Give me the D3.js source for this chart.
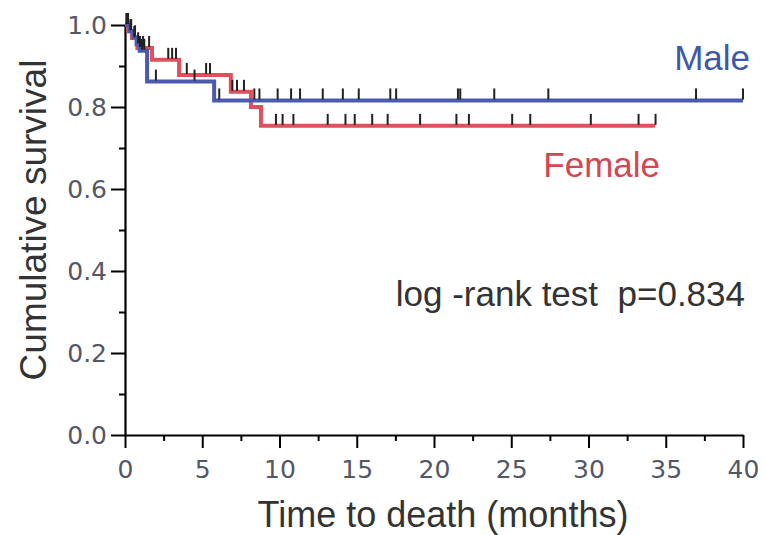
<!DOCTYPE html>
<html>
<head>
<meta charset="utf-8">
<script src="https://cdn.jsdelivr.net/npm/d3@7"></script>
<style>
  body { margin: 0; background: #fff; }
  svg { display: block; }
  text { white-space: pre; }
</style>
</head>
<body>
<svg width="765" height="535"></svg>
<script>
// step points: [time (months), survival after the drop]
const maleSteps = [[0, 1.0], [0.3, 0.985], [0.55, 0.97], [0.75, 0.953], [0.95, 0.937], [1.43, 0.862], [5.77, 0.816]]
const maleEnd = 40
const maleCensor = [0.1, 0.2, 0.4, 0.65, 0.85, 1.1, 1.25, 2.0, 4.5, 6.1, 8.37, 8.7, 9.88, 10.75, 11.33, 12.8, 14.1, 15.13,
                    17.17, 17.55, 21.55, 21.7, 23.9, 27.4, 36.96, 40]

const femaleSteps = [[0, 1.0], [0.2, 0.985], [0.45, 0.968], [0.8, 0.944], [1.75, 0.915], [3.5, 0.878], [6.85, 0.837],
                     [8.15, 0.80], [8.8, 0.754]]
const femaleEnd = 34.3
const femaleCensor = [0.1, 0.35, 0.6, 0.97, 1.17, 1.56, 2.8, 3.05, 3.3, 4.0, 5.25, 5.5, 6.95, 7.25, 7.7, 9.77, 10.2, 10.9,
                      13.12, 14.27, 14.87, 16.0, 17.0, 19.1, 21.45, 22.26, 25.06, 26.23, 30.15, 33.24, 34.34]

const xMajor = [0, 5, 10, 15, 20, 25, 30, 35, 40]
const xMinor = [2.5, 7.5, 12.5, 17.5, 22.5, 27.5, 32.5, 37.5]
const yMajor = [0, 0.2, 0.4, 0.6, 0.8, 1.0]
const yMinor = [0.1, 0.3, 0.5, 0.7, 0.9]

const blue = "#4a5aae"
const red = "#e0505c"

const svg = d3.select("svg")

const x = d3.scaleLinear().domain([0, 40]).range([125, 743])
const y = d3.scaleLinear().domain([0, 1]).range([435, 25])

// axes
const tickFont = g => g.selectAll("text")
   .attr("font-family", "'DejaVu Sans', Verdana, sans-serif")
   .attr("font-size", 25)
   .attr("fill", "#545866")

svg.append("g")
   .attr("transform", `translate(0,${y(0)})`)
   .call(d3.axisBottom(x).tickValues(xMinor).tickSize(6).tickFormat(""))
   .call(g => g.select(".domain").remove())
   .call(g => g.selectAll("line").attr("stroke-width", 2))

svg.append("g")
   .attr("transform", `translate(0,${y(0)})`)
   .call(d3.axisBottom(x).tickValues(xMajor).tickSize(13).tickSizeOuter(0).tickPadding(12).tickFormat(d3.format("d")))
   .call(g => g.select(".domain").attr("stroke-width", 2.2))
   .call(g => g.selectAll("line").attr("stroke-width", 2))
   .call(tickFont)

svg.append("g")
   .attr("transform", `translate(${x(0)},0)`)
   .call(d3.axisLeft(y).tickValues(yMinor).tickSize(6).tickFormat(""))
   .call(g => g.select(".domain").remove())
   .call(g => g.selectAll("line").attr("stroke-width", 2))

svg.append("g")
   .attr("transform", `translate(${x(0)},0)`)
   .call(d3.axisLeft(y).tickValues(yMajor).tickSize(14).tickSizeOuter(0).tickPadding(4).tickFormat(d3.format(".1f")))
   .call(g => g.select(".domain").attr("stroke-width", 2.2))
   .call(g => g.selectAll("line").attr("stroke-width", 2))
   .call(tickFont)

// curves
const line = d3.line()
   .curve(d3.curveStepAfter)
   .x(d => x(d[0]))
   .y(d => y(d[1]))

function survAt(steps, t) {
   let s = steps[0][1]
   for (const [ti, si] of steps) if (ti <= t) s = si
   return s
}

const groups = [
   {steps: femaleSteps, end: femaleEnd, censor: femaleCensor, color: red},
   {steps: maleSteps, end: maleEnd, censor: maleCensor, color: blue}
]

groups.forEach(grp => {
   const pts = grp.steps.concat([[grp.end, grp.steps[grp.steps.length - 1][1]]])
   svg.append("path")
      .datum(pts)
      .attr("fill", "none")
      .attr("stroke", grp.color)
      .attr("stroke-width", 4)
      .attr("d", line)
})

groups.forEach(grp => {
   svg.append("g")
      .attr("stroke", "#222")
      .attr("stroke-width", 2)
      .selectAll("line")
      .data(grp.censor)
      .join("line")
      .attr("x1", d => x(d))
      .attr("x2", d => x(d))
      .attr("y1", d => y(survAt(grp.steps, d)) - 1)
      .attr("y2", d => y(survAt(grp.steps, d)) - 12)
})

// labels
const labelFont = "'Liberation Sans', Arial, sans-serif"

svg.append("text")
   .attr("x", 750).attr("y", 70)
   .attr("text-anchor", "end")
   .attr("font-family", labelFont).attr("font-size", 35)
   .attr("fill", "#3d58a8")
   .text("Male")

svg.append("text")
   .attr("x", 660).attr("y", 177)
   .attr("text-anchor", "end")
   .attr("font-family", labelFont).attr("font-size", 35)
   .attr("fill", "#d44652")
   .text("Female")

svg.append("text")
   .attr("x", 745).attr("y", 306)
   .attr("text-anchor", "end")
   .attr("font-family", labelFont).attr("font-size", 35)
   .attr("fill", "#333")
   .text("log -rank test  p=0.834")

svg.append("text")
   .attr("x", 443).attr("y", 527)
   .attr("text-anchor", "middle")
   .attr("font-family", labelFont).attr("font-size", 36)
   .attr("fill", "#333")
   .text("Time to death (months)")

svg.append("text")
   .attr("transform", "translate(46,220) rotate(-90)")
   .attr("text-anchor", "middle")
   .attr("font-family", labelFont).attr("font-size", 37)
   .attr("fill", "#333")
   .text("Cumulative survival")
</script>
</body>
</html>
